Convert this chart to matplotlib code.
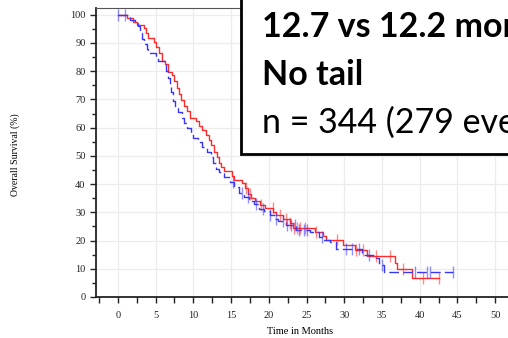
import numpy as np
import matplotlib
matplotlib.use("Agg")
import matplotlib.pyplot as plt
from matplotlib.patches import Rectangle
from matplotlib.ticker import MultipleLocator

# Kaplan-Meier steps (time in months, survival in %)
red_t = [0, 1.2, 2.0, 2.5, 3.4, 3.7, 4.0, 4.8, 5.1, 5.4, 5.8, 6.2, 6.6, 7.2, 7.5, 7.8,
         8.1, 8.4, 8.8, 9.2, 9.5, 10.3, 10.7, 11.1, 11.7, 12.1, 12.4, 12.8, 13.1, 13.4,
         13.7, 14.0, 15.1, 15.4, 16.5, 16.9, 17.2, 17.6, 18.2, 18.8, 19.5, 20.6, 21.0,
         21.9, 22.8, 23.2, 26.1, 27.2, 27.6, 29.8, 31.4, 33.0, 36.7, 37.0, 39.0, 42.5]
red_s = [100, 98.8, 97.6, 96.5, 95.3, 93.5, 91.8, 90.5, 88.5, 86.5, 83.5, 82.5, 79.8,
         78.5, 76.5, 74.0, 72.0, 69.9, 67.5, 66.0, 63.5, 62.3, 60.5, 59.2, 57.5, 55.8,
         53.8, 51.5, 49.6, 47.5, 46.0, 44.6, 43.0, 41.5, 40.4, 38.5, 36.5, 35.2, 34.0,
         32.5, 31.5, 30.2, 29.0, 27.5, 26.2, 24.5, 23.2, 21.5, 20.3, 18.4, 16.8, 14.5,
         12.0, 10.0, 6.7, 6.7]
red_cens = [17.0, 17.5, 19.0, 20.5, 21.5, 22.3, 22.8, 23.3, 23.8, 24.2, 24.8, 26.2,
            29.0, 31.6, 32.5, 34.2, 36.1, 37.8, 40.5, 42.5]

blue_t = [0, 1.6, 2.3, 2.6, 2.9, 3.2, 3.4, 3.8, 4.0, 5.1, 5.3, 6.2, 6.4, 6.7, 6.9, 7.1,
          7.3, 7.6, 8.0, 8.5, 8.8, 9.1, 9.7, 10.0, 10.6, 11.1, 11.8, 12.3, 12.6, 13.0,
          13.4, 14.0, 14.8, 15.4, 16.1, 16.7, 17.4, 18.0, 18.7, 19.3, 20.1, 20.8, 21.2,
          22.3, 23.6, 25.5, 26.7, 27.2, 28.1, 28.9, 32.4, 34.2, 34.6, 35.3, 44.4]
blue_s = [100, 98.3, 97.0, 96.0, 93.6, 91.5, 89.5, 88.0, 86.5, 85.0, 83.7, 82.5, 80.0,
          77.5, 75.5, 72.5, 69.5, 67.0, 65.5, 63.5, 61.5, 60.0, 58.0, 56.5, 54.8, 53.0,
          51.5, 49.5, 47.5, 45.5, 44.2, 42.6, 40.8, 38.8, 37.0, 35.5, 34.0, 32.8, 31.2,
          30.3, 29.2, 27.8, 26.8, 25.5, 23.9, 23.0, 21.3, 20.3, 19.6, 16.9, 15.0, 13.8,
          11.2, 8.7, 8.7]
blue_cens = [0.0, 0.9, 15.3, 16.5, 17.3, 18.3, 19.2, 20.1, 21.0, 21.9, 22.4, 23.0, 23.5,
             24.0, 24.6, 25.1, 27.0, 30.2, 31.0, 32.0, 33.3, 35.0, 39.4, 41.0, 41.4, 44.4]

box_lines = ["12.7 vs 12.2 months", "No tail", "n = 344 (279 events)"]

RED = "#ff2a2a"
BLUE = "#3535ff"


def surv_at(times, surv, t):
    # value of the step function at the censoring time
    i = np.searchsorted(times, t, side="right") - 1
    return np.asarray(surv)[i]


fig = plt.figure(figsize=(5.08, 3.38), dpi=100)
ax = fig.add_axes([96 / 508, 1 - 297 / 338, 1 - 96 / 508, (297 - 8) / 338])

ax.step(red_t, red_s, where="post", color=RED, lw=1.0, zorder=3)
ax.step(blue_t, blue_s, where="post", color=BLUE, lw=1.0, dashes=(7, 3), zorder=3)
ax.plot(red_cens, surv_at(red_t, red_s, red_cens), ls="none", marker="|",
        ms=8, mew=1.0, color=RED, alpha=0.55, zorder=3)
ax.plot(blue_cens, surv_at(blue_t, blue_s, blue_cens), ls="none", marker="|",
        ms=8, mew=1.0, color=BLUE, alpha=0.55, zorder=3)

ax.set_xlim(-2.9, 51.7)
ax.set_ylim(0, 102.4)
ax.xaxis.set_major_locator(MultipleLocator(5))
ax.xaxis.set_minor_locator(MultipleLocator(2.5))
ax.yaxis.set_major_locator(MultipleLocator(10))
ax.yaxis.set_minor_locator(MultipleLocator(5))
ax.grid(True, which="major", color="#ececec", lw=0.9, zorder=0)
ax.set_axisbelow(True)

for s in ("left", "bottom"):
    ax.spines[s].set_linewidth(1.3)
    ax.spines[s].set_color("#222222")
ax.spines["top"].set_color("#555555")
ax.spines["top"].set_linewidth(0.8)
ax.spines["right"].set_visible(False)

ax.tick_params(which="both", direction="out", color="#222222", width=1.0)
ax.tick_params(which="major", length=4)
ax.tick_params(which="minor", length=3)
ax.tick_params(axis="x", which="both", length=4, pad=6)
for lab in ax.get_xticklabels() + ax.get_yticklabels():
    lab.set_fontfamily("Liberation Serif")
    lab.set_fontsize(7.5)
    lab.set_color("#222222")

fig.text(15 / 508, 1 - 155 / 338, "Overall Survival (%)", rotation=90,
         ha="center", va="center", family="Liberation Serif", fontsize=7)
fig.text(300 / 508, 1 - 331 / 338, "Time in Months", ha="center", va="center",
         family="Liberation Serif", fontsize=7.5)

# annotation box laid over the top right of the chart
box = Rectangle((241 / 508, 1 - 154 / 338), 0.6, 0.6, transform=fig.transFigure,
                facecolor="white", edgecolor="black", lw=2.0, zorder=10)
fig.patches.append(box)
ys = [37, 85, 133]
weights = ["bold", "bold", "normal"]
for txt, y, w in zip(box_lines, ys, weights):
    fig.text(262 / 508, 1 - y / 338, txt, ha="left", va="baseline", family="Lato",
             fontsize=24.5, fontweight=w, zorder=11)

fig.savefig("out.png", dpi=100)
